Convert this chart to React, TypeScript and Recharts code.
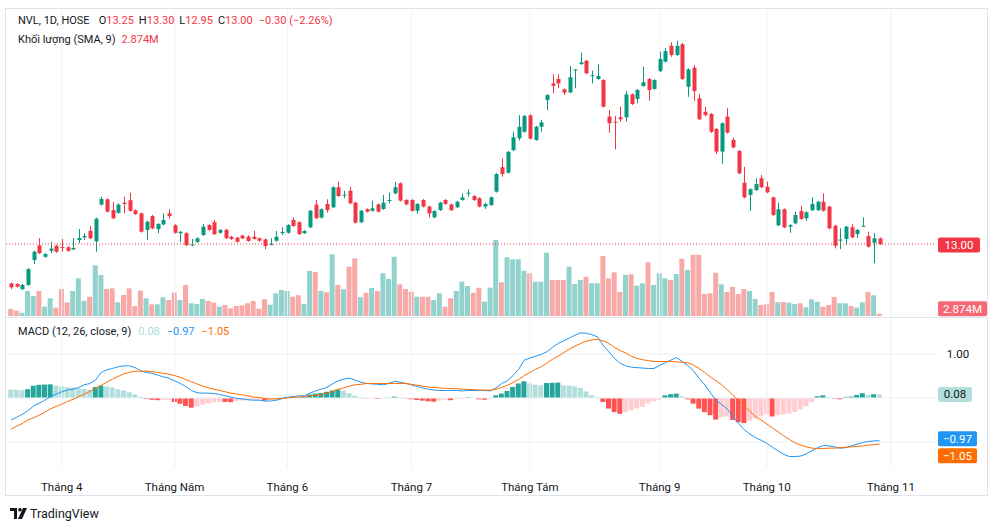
import { Bar, Cell, ComposedChart, Line, ReferenceLine, XAxis, YAxis } from "recharts"

// NVL daily, 21 Mar - 30 Oct 2023 (one entry per session)
const opens = [
  11.21, 11.18, 10.95, 11.14, 12.27, 12.94, 12.42, 12.69, 12.92, 12.86,
  12.85, 12.75, 13.18, 13.30, 13.60, 13.12, 14.79, 15.03, 14.54, 14.42,
  14.88, 14.99, 14.53, 14.39, 13.64, 14.27, 13.67, 13.89, 14.39, 13.85,
  13.49, 13.49, 12.95, 13.10, 13.41, 13.86, 13.99, 13.51, 13.64, 13.33,
  13.29, 13.38, 13.33, 13.33, 13.26, 13.21, 12.98, 13.15, 13.49, 13.51,
  14.09, 13.99, 13.49, 13.76, 14.79, 14.20, 14.82, 14.67, 15.58, 15.20,
  15.42, 14.88, 13.99, 14.58, 14.51, 14.80, 14.59, 14.98, 15.30, 15.76,
  15.00, 15.00, 14.51, 15.00, 14.70, 14.21, 14.54, 15.00, 14.80, 14.67,
  15.00, 15.31, 15.18, 15.08, 14.70, 14.77, 15.38, 16.49, 16.24, 17.27,
  17.80, 18.10, 18.85, 17.73, 18.33, 19.54, 20.30, 20.50, 20.03, 19.89,
  20.89, 21.18, 21.33, 20.64, 20.50, 20.45, 18.79, 18.56, 18.76, 18.76,
  19.80, 19.59, 20.18, 20.50, 20.05, 20.86, 21.29, 22.01, 21.59, 22.08,
  20.15, 21.01, 19.62, 19.01, 18.91, 18.23, 17.20, 18.79, 17.73, 17.23,
  15.79, 15.23, 15.45, 15.99, 15.60, 15.12, 13.85, 14.58, 13.79, 13.94,
  14.50, 14.17, 14.54, 14.54, 14.92, 14.70, 13.83, 13.16, 13.23, 13.76,
  13.45, 13.80, 13.36, 13.06, 13.25,
]
const highs = [
  11.25, 11.22, 11.18, 11.90, 12.70, 13.27, 12.60, 13.10, 12.97, 13.23,
  12.90, 13.27, 13.68, 13.49, 13.82, 14.20, 15.14, 15.08, 14.91, 14.85,
  15.15, 15.33, 14.57, 14.43, 14.06, 14.32, 13.95, 14.38, 14.58, 13.90,
  13.60, 13.53, 13.23, 13.30, 13.91, 13.90, 14.09, 13.68, 13.70, 13.37,
  13.33, 13.42, 13.40, 13.60, 13.30, 13.25, 13.26, 13.59, 13.76, 13.90,
  14.20, 14.03, 13.63, 14.55, 15.00, 14.62, 15.03, 15.62, 15.83, 15.42,
  15.60, 14.92, 14.55, 14.62, 14.97, 14.84, 15.23, 15.33, 15.83, 15.80,
  15.04, 15.04, 14.86, 15.04, 14.74, 14.54, 14.92, 15.04, 14.84, 14.96,
  15.30, 15.49, 15.22, 15.12, 14.86, 15.16, 16.22, 16.89, 17.23, 18.10,
  18.86, 18.86, 18.90, 18.37, 18.64, 19.81, 20.71, 20.71, 20.07, 21.09,
  20.95, 21.70, 21.37, 20.88, 21.17, 20.49, 19.09, 18.82, 19.24, 19.95,
  19.84, 20.04, 21.06, 20.54, 20.49, 21.74, 21.90, 22.17, 22.24, 22.14,
  20.98, 21.14, 19.82, 19.24, 18.95, 18.27, 18.53, 19.17, 17.83, 17.27,
  16.51, 15.53, 15.99, 16.14, 15.83, 15.16, 14.88, 14.62, 13.90, 14.47,
  14.73, 14.48, 15.12, 14.96, 15.30, 14.74, 13.87, 13.71, 13.82, 13.90,
  13.68, 14.21, 13.56, 13.49, 13.30,
]
const lows = [
  10.95, 11.02, 10.90, 11.10, 12.09, 12.55, 12.38, 12.58, 12.60, 12.65,
  12.65, 12.73, 13.04, 13.18, 13.22, 12.65, 14.75, 14.43, 14.12, 14.38,
  14.39, 14.47, 14.32, 13.52, 13.18, 13.67, 13.49, 13.85, 14.15, 13.47,
  13.10, 12.90, 12.90, 13.05, 13.37, 13.60, 13.41, 13.47, 13.22, 13.18,
  13.06, 13.22, 13.10, 13.20, 13.10, 12.76, 12.94, 13.10, 13.41, 13.47,
  13.78, 13.41, 13.45, 13.72, 14.13, 14.15, 14.42, 14.63, 15.14, 15.08,
  14.81, 13.93, 13.95, 14.43, 14.47, 14.43, 14.55, 14.85, 15.26, 14.93,
  14.76, 14.47, 14.36, 14.66, 14.20, 14.17, 14.50, 14.78, 14.50, 14.63,
  14.96, 15.15, 14.96, 14.66, 14.59, 14.73, 15.34, 16.06, 16.20, 17.23,
  17.70, 18.06, 17.75, 17.69, 18.10, 19.09, 19.85, 20.08, 19.77, 19.85,
  20.08, 21.14, 20.72, 20.30, 20.46, 19.20, 18.06, 17.30, 18.56, 18.56,
  19.32, 19.39, 20.14, 19.51, 20.01, 20.82, 21.25, 21.51, 21.55, 20.46,
  19.69, 19.51, 18.63, 18.80, 18.05, 17.09, 16.64, 18.02, 17.35, 16.17,
  15.08, 14.51, 15.41, 15.54, 15.31, 14.28, 13.81, 13.72, 13.51, 13.90,
  14.10, 14.05, 14.50, 14.50, 14.47, 13.67, 12.80, 12.76, 12.95, 13.26,
  13.26, 13.79, 12.84, 12.12, 12.95,
]
const closes = [
  11.03, 11.06, 11.14, 11.86, 12.65, 12.58, 12.54, 12.79, 12.65, 12.82,
  12.69, 12.82, 13.27, 13.36, 13.26, 14.15, 15.05, 14.47, 14.17, 14.79,
  14.82, 14.51, 14.36, 13.56, 14.01, 13.71, 13.91, 14.09, 14.27, 13.51,
  13.55, 12.95, 12.98, 13.26, 13.79, 13.64, 13.45, 13.64, 13.26, 13.23,
  13.10, 13.26, 13.14, 13.23, 13.15, 12.91, 13.01, 13.33, 13.55, 13.86,
  13.82, 13.45, 13.59, 14.51, 14.17, 14.58, 14.54, 15.58, 15.18, 15.24,
  14.85, 13.97, 14.51, 14.47, 14.62, 14.47, 14.88, 15.00, 15.58, 14.97,
  14.80, 14.51, 14.82, 14.70, 14.39, 14.50, 14.88, 14.82, 14.54, 14.92,
  15.12, 15.33, 15.00, 14.70, 14.82, 15.12, 16.18, 16.18, 17.19, 17.85,
  18.33, 18.82, 17.79, 18.33, 18.53, 19.77, 20.19, 20.30, 19.88, 20.58,
  20.93, 21.26, 20.76, 20.67, 20.64, 19.24, 18.49, 18.52, 18.67, 19.80,
  19.36, 20.00, 20.35, 20.00, 20.45, 21.41, 21.77, 21.59, 22.01, 20.50,
  20.94, 19.95, 18.67, 18.86, 18.10, 17.20, 18.49, 18.06, 17.39, 16.21,
  15.12, 15.49, 15.73, 15.58, 15.35, 14.32, 14.58, 13.76, 13.86, 14.32,
  14.14, 14.44, 14.82, 14.92, 14.51, 13.71, 12.92, 13.20, 13.79, 13.30,
  13.64, 13.83, 12.88, 13.26, 13.00,
]
// millions of shares
const volumes = [
  8.8, 6.6, 4.1, 31.3, 25.0, 31.3, 11.6, 22.1, 10.4, 33.8,
  17.1, 31.3, 47.1, 19.1, 24.1, 63.4, 51.3, 33.8, 34.6, 17.1,
  26.3, 34.6, 12.5, 31.6, 22.1, 14.6, 14.6, 23.4, 20.0, 29.1,
  20.0, 38.8, 15.9, 15.0, 21.3, 18.8, 16.6, 11.6, 13.8, 9.6,
  12.5, 13.4, 15.9, 18.8, 9.1, 20.9, 14.1, 28.4, 32.5, 31.3,
  24.1, 25.9, 15.0, 56.3, 55.0, 31.3, 29.6, 77.1, 38.8, 33.4,
  61.6, 72.1, 23.4, 29.1, 35.0, 31.3, 53.4, 46.3, 74.1, 39.6,
  33.8, 30.4, 24.1, 24.1, 24.1, 20.0, 28.4, 11.6, 22.1, 31.3,
  43.1, 37.5, 29.1, 35.3, 17.9, 35.4, 95.0, 42.1, 73.4, 70.9,
  70.9, 56.6, 53.4, 42.9, 42.9, 79.1, 45.0, 45.0, 45.0, 61.6,
  40.0, 45.0, 49.1, 40.9, 40.9, 75.0, 47.1, 54.6, 30.0, 51.3,
  52.1, 37.9, 40.9, 67.1, 38.8, 53.4, 47.1, 45.0, 52.5, 71.6,
  57.5, 76.6, 76.6, 27.5, 28.4, 54.1, 39.6, 30.0, 36.3, 27.5,
  33.8, 31.3, 21.3, 13.8, 14.6, 30.0, 17.1, 17.5, 16.6, 15.0,
  15.9, 10.9, 20.9, 17.9, 11.6, 13.8, 23.8, 15.9, 15.9, 12.5,
  10.4, 17.1, 30.0, 25.9, 2.874,
]
const macdLine = [
  -0.50, -0.44, -0.37, -0.29, -0.18, -0.12, -0.05, 0.03, 0.09, 0.14,
  0.18, 0.20, 0.24, 0.30, 0.33, 0.41, 0.58, 0.64, 0.67, 0.71,
  0.73, 0.73, 0.69, 0.62, 0.58, 0.56, 0.52, 0.48, 0.45, 0.39,
  0.33, 0.26, 0.17, 0.12, 0.11, 0.11, 0.10, 0.08, 0.05, 0.02,
  -0.01, -0.02, -0.04, -0.05, -0.05, -0.07, -0.07, -0.05, -0.02, 0.01,
  0.03, 0.05, 0.05, 0.11, 0.16, 0.20, 0.24, 0.32, 0.39, 0.43,
  0.45, 0.41, 0.36, 0.33, 0.32, 0.31, 0.30, 0.33, 0.38, 0.36,
  0.33, 0.30, 0.26, 0.23, 0.20, 0.18, 0.17, 0.17, 0.17, 0.17,
  0.16, 0.17, 0.17, 0.17, 0.17, 0.16, 0.23, 0.33, 0.39, 0.51,
  0.65, 0.86, 0.91, 0.95, 0.99, 1.05, 1.15, 1.24, 1.30, 1.36,
  1.43, 1.48, 1.47, 1.44, 1.39, 1.20, 1.05, 0.90, 0.79, 0.73,
  0.70, 0.69, 0.68, 0.67, 0.67, 0.74, 0.80, 0.86, 0.92, 0.83,
  0.74, 0.62, 0.45, 0.30, 0.12, -0.05, -0.15, -0.25, -0.42, -0.58,
  -0.72, -0.82, -0.90, -0.96, -1.03, -1.12, -1.20, -1.28, -1.33, -1.33,
  -1.32, -1.27, -1.20, -1.13, -1.08, -1.09, -1.11, -1.14, -1.13, -1.09,
  -1.05, -1.01, -0.99, -0.975, -0.97,
]
const signalLine = [
  -0.71, -0.64, -0.58, -0.50, -0.45, -0.39, -0.32, -0.25, -0.19, -0.14,
  -0.08, -0.03, 0.03, 0.09, 0.15, 0.22, 0.29, 0.36, 0.43, 0.49,
  0.55, 0.58, 0.61, 0.61, 0.61, 0.60, 0.58, 0.56, 0.54, 0.51,
  0.47, 0.42, 0.37, 0.32, 0.27, 0.23, 0.20, 0.17, 0.14, 0.11,
  0.09, 0.07, 0.05, 0.02, 0.01, -0.01, -0.02, -0.02, -0.01, 0.00,
  0.02, 0.02, 0.03, 0.05, 0.06, 0.08, 0.11, 0.15, 0.20, 0.23,
  0.27, 0.30, 0.31, 0.33, 0.33, 0.33, 0.33, 0.33, 0.33, 0.33,
  0.33, 0.31, 0.29, 0.27, 0.25, 0.24, 0.23, 0.22, 0.215, 0.21,
  0.20, 0.195, 0.19, 0.18, 0.18, 0.18, 0.20, 0.24, 0.29, 0.35,
  0.42, 0.51, 0.58, 0.65, 0.71, 0.79, 0.88, 0.95, 1.03, 1.11,
  1.18, 1.24, 1.29, 1.32, 1.33, 1.30, 1.24, 1.15, 1.08, 1.02,
  0.95, 0.90, 0.87, 0.85, 0.83, 0.83, 0.83, 0.83, 0.82, 0.81,
  0.80, 0.75, 0.67, 0.58, 0.48, 0.39, 0.30, 0.19, 0.06, -0.05,
  -0.17, -0.30, -0.42, -0.50, -0.59, -0.68, -0.77, -0.86, -0.94, -1.02,
  -1.07, -1.11, -1.14, -1.15, -1.15, -1.14, -1.14, -1.13, -1.12, -1.11,
  -1.10, -1.09, -1.07, -1.06, -1.05,
]
const histogram = [
  0.19, 0.185, 0.18, 0.20, 0.28, 0.30, 0.305, 0.31, 0.28, 0.26,
  0.245, 0.24, 0.22, 0.205, 0.19, 0.25, 0.28, 0.265, 0.24, 0.20,
  0.17, 0.13, 0.08, 0.03, -0.02, -0.04, -0.05, -0.045, -0.04, -0.09,
  -0.13, -0.18, -0.22, -0.19, -0.15, -0.12, -0.10, -0.085, -0.09, -0.095,
  -0.07, -0.06, -0.05, -0.045, -0.04, -0.06, -0.05, -0.03, 0.01, 0.03,
  0.04, 0.03, 0.035, 0.08, 0.10, 0.115, 0.14, 0.17, 0.19, 0.17,
  0.11, 0.05, 0.02, -0.01, -0.005, -0.02, -0.015, 0.005, 0.03, 0.015,
  -0.01, -0.03, -0.045, -0.06, -0.075, -0.085, -0.06, -0.04, -0.05, -0.025,
  -0.015, 0.015, 0.005, -0.03, -0.04, -0.01, 0.06, 0.10, 0.16, 0.25,
  0.33, 0.38, 0.33, 0.30, 0.29, 0.34, 0.345, 0.35, 0.29, 0.28,
  0.265, 0.23, 0.15, 0.06, 0.015, -0.09, -0.24, -0.32, -0.36, -0.32,
  -0.28, -0.24, -0.20, -0.13, -0.075, -0.04, 0.06, 0.085, 0.10, 0.04,
  -0.03, -0.13, -0.24, -0.32, -0.39, -0.49, -0.43, -0.42, -0.50, -0.55,
  -0.57, -0.51, -0.47, -0.42, -0.37, -0.42, -0.39, -0.37, -0.35, -0.32,
  -0.26, -0.19, -0.09, 0.04, 0.06, 0.02, -0.015, -0.03, 0.02, 0.03,
  0.07, 0.11, 0.07, 0.085, 0.08,
]
const monthTicks = [9, 29, 49, 71, 92, 115, 134, 156]
const monthLabels = ["Tháng 4", "Tháng Năm", "Tháng 6", "Tháng 7", "Tháng Tám", "Tháng 9", "Tháng 10", "Tháng 11"]

const FONT = "Roboto, 'Noto Sans', sans-serif"
const TEXT = "#131722"
const UP = "#089981"
const DOWN = "#f23645"
const UP_VOL = "#92d2cc"
const DOWN_VOL = "#f7a9a8"
const GRID = "#eef1f6"
const X_DOMAIN: [number, number] = [-0.8865, 164.007]
const MARGIN_X = { left: 6, right: 64 }

const rows = opens.map((open, i) => ({
  i,
  open,
  high: highs[i],
  low: lows[i],
  close: closes[i],
  range: [lows[i], highs[i]],
  vol: volumes[i],
  macd: macdLine[i],
  signal: signalLine[i],
  hist: histogram[i],
}))

function histColor(i: number) {
  const h = histogram[i]
  const prev = i > 0 ? histogram[i - 1] : Infinity
  if (h >= 0) return h > prev ? "#26a69a" : "#b2dfdb"
  return h < prev ? "#ff5252" : "#ffcdd2"
}

function Candle(props: any) {
  const { x, y, width, height, payload } = props
  const { open, close, high, low } = payload
  const color = close >= open ? UP : DOWN
  const span = high - low
  const toY = (v: number) => (span === 0 ? y : y + ((high - v) / span) * height)
  const top = toY(Math.max(open, close))
  const bot = toY(Math.min(open, close))
  const cx = Math.round(x + width / 2) + 0.5
  return (
    <g>
      <line x1={cx} x2={cx} y1={y} y2={y + height} stroke={color} strokeWidth={1} />
      <rect x={cx - 2} y={top} width={4} height={Math.max(1, bot - top)} fill={color} />
    </g>
  )
}

function Badge(props: any) {
  const { viewBox, text, bg, fg = "#fff", w, dy = 0 } = props
  if (!viewBox) return null
  const x = viewBox.x + viewBox.width + 2
  const cy = viewBox.y + dy
  return (
    <g>
      <rect x={x} y={cy - 7.5} width={w} height={15} rx={2} fill={bg} />
      <text x={x + w / 2} y={cy + 4} textAnchor="middle" fontSize={11.5} fill={fg} fontFamily={FONT}>
        {text}
      </text>
    </g>
  )
}

function AxisText(props: any) {
  const { viewBox, text } = props
  if (!viewBox) return null
  return (
    <text x={viewBox.x + viewBox.width + 22} y={viewBox.y + 4} textAnchor="middle" fontSize={11.5} fill={TEXT} fontFamily={FONT}>
      {text}
    </text>
  )
}

const gridLines = (axis: string) =>
  monthTicks.map((t) => <ReferenceLine key={t} x={t} yAxisId={axis} stroke={GRID} strokeWidth={1} />)

export default function App() {
  return (
    <div style={{ position: "absolute", left: 0, top: 0, width: 1000, height: 530, background: "#fff", fontFamily: FONT }}>
      <div style={{ position: "absolute", left: 5, top: 8, width: 983, height: 488, border: "1px solid #e0e3eb", boxSizing: "border-box" }} />
      <div style={{ position: "absolute", left: 5, top: 317, width: 983, height: 1, background: "#e0e3eb" }} />

      {/* volume, behind the candles */}
      <div style={{ position: "absolute", left: 0, top: 0 }}>
        <ComposedChart width={1000} height={318} data={rows} margin={{ top: 8, bottom: 2, ...MARGIN_X }}>
          <XAxis dataKey="i" type="number" domain={X_DOMAIN} allowDataOverflow hide />
          <YAxis yAxisId="v" domain={[0, 385]} allowDataOverflow hide />
          {gridLines("v")}
          <Bar yAxisId="v" dataKey="vol" barSize={5} isAnimationActive={false}>
            {rows.map((r) => (
              <Cell key={r.i} fill={r.close >= r.open ? UP_VOL : DOWN_VOL} />
            ))}
          </Bar>
          <ReferenceLine
            yAxisId="v"
            y={2.874}
            stroke="none"
            label={<Badge text="2.874M" bg="rgba(242,54,69,0.75)" w={49} dy={-5} />}
          />
        </ComposedChart>
      </div>

      {/* price */}
      <div style={{ position: "absolute", left: 0, top: 0 }}>
        <ComposedChart width={1000} height={318} data={rows} margin={{ top: 8, bottom: 0, ...MARGIN_X }}>
          <XAxis dataKey="i" type="number" domain={X_DOMAIN} allowDataOverflow hide />
          <YAxis yAxisId="p" domain={[9.636, 23.727]} allowDataOverflow hide />
          <ReferenceLine
            yAxisId="p"
            y={13}
            stroke={DOWN}
            strokeDasharray="1 2"
            label={<Badge text="13.00" bg={DOWN} w={42} dy={1} />}
          />
          <Bar yAxisId="p" dataKey="range" barSize={4} shape={<Candle />} isAnimationActive={false} />
        </ComposedChart>
      </div>

      {/* MACD + time axis */}
      <div style={{ position: "absolute", left: 0, top: 318 }}>
        <ComposedChart width={1000} height={180} data={rows} margin={{ top: 0, bottom: 0, ...MARGIN_X }}>
          <XAxis
            dataKey="i"
            type="number"
            domain={X_DOMAIN}
            allowDataOverflow
            ticks={monthTicks}
            interval={0}
            tickFormatter={(v: number) => monthLabels[monthTicks.indexOf(v)]}
            axisLine={false}
            tickLine={false}
            tickMargin={9}
            height={30}
            tick={{ fontSize: 11.5, fill: TEXT, fontFamily: FONT }}
          />
          <YAxis yAxisId="m" domain={[-1.591, 1.818]} allowDataOverflow hide />
          {gridLines("m")}
          <ReferenceLine yAxisId="m" y={1} stroke={GRID} label={<AxisText text="1.00" />} />
          <ReferenceLine yAxisId="m" y={0} stroke={GRID} />
          <ReferenceLine yAxisId="m" y={-1} stroke={GRID} />
          <Bar yAxisId="m" dataKey="hist" barSize={5} isAnimationActive={false}>
            {rows.map((r) => (
              <Cell key={r.i} fill={histColor(r.i)} />
            ))}
          </Bar>
          <Line yAxisId="m" dataKey="macd" type="linear" stroke="#2196f3" strokeWidth={1} dot={false} isAnimationActive={false} />
          <Line yAxisId="m" dataKey="signal" type="linear" stroke="#ff6d00" strokeWidth={1} dot={false} isAnimationActive={false} />
          <ReferenceLine yAxisId="m" y={0.08} stroke="none" label={<Badge text="0.08" bg="#b2dfdb" fg={TEXT} w={34} />} />
          <ReferenceLine yAxisId="m" y={-0.97} stroke="none" label={<Badge text="−0.97" bg="#2196f3" w={39} dy={-2} />} />
          <ReferenceLine yAxisId="m" y={-1.05} stroke="none" label={<Badge text="−1.05" bg="#ff6d00" w={39} dy={11.5} />} />
        </ComposedChart>
      </div>

      {/* legends */}
      <div style={{ position: "absolute", left: 18, top: 14, fontSize: 11, color: TEXT, whiteSpace: "nowrap", lineHeight: "14px" }}>
        <span>NVL, 1D, HOSE</span>
        <span style={{ marginLeft: 9 }}>O</span><span style={{ color: DOWN }}>13.25</span>
        <span style={{ marginLeft: 5 }}>H</span><span style={{ color: DOWN }}>13.30</span>
        <span style={{ marginLeft: 5 }}>L</span><span style={{ color: DOWN }}>12.95</span>
        <span style={{ marginLeft: 5 }}>C</span><span style={{ color: DOWN }}>13.00</span>
        <span style={{ marginLeft: 6, color: DOWN }}>−0.30 (−2.26%)</span>
      </div>
      <div style={{ position: "absolute", left: 18, top: 33, fontSize: 11, color: TEXT, whiteSpace: "nowrap", lineHeight: "14px" }}>
        <span>Khối lượng (SMA, 9)</span>
        <span style={{ marginLeft: 6, color: DOWN }}>2.874M</span>
      </div>
      <div style={{ position: "absolute", left: 18, top: 325, fontSize: 11, color: TEXT, whiteSpace: "nowrap", lineHeight: "14px" }}>
        <span>MACD (12, 26, close, 9)</span>
        <span style={{ marginLeft: 7, color: "#a9dcd5" }}>0.08</span>
        <span style={{ marginLeft: 7, color: "#2196f3" }}>−0.97</span>
        <span style={{ marginLeft: 7, color: "#ff6d00" }}>−1.05</span>
      </div>

      {/* watermark */}
      <div style={{ position: "absolute", left: 10, top: 506, display: "flex", alignItems: "center", color: TEXT }}>
        <svg width={17} height={11} viewBox="0 0 17 11">
          <path d="M0 0h7v11H4V3H0z" fill={TEXT} />
          <circle cx={10} cy={1.8} r={1.8} fill={TEXT} />
          <path d="M13 0h4l-5 11H8z" fill={TEXT} />
        </svg>
        <span style={{ marginLeft: 3, fontSize: 12.5 }}>TradingView</span>
      </div>
    </div>
  )
}
